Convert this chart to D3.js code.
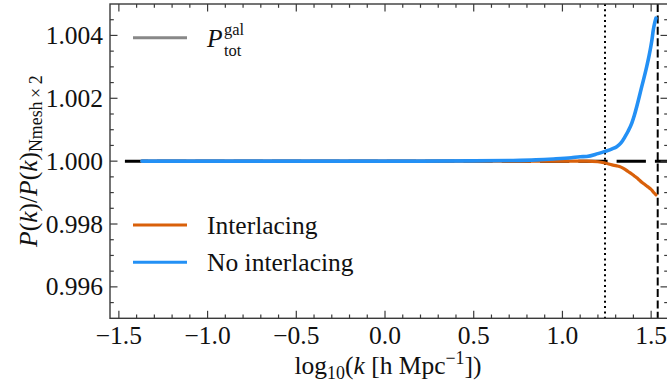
<!DOCTYPE html>
<html>
<head>
<meta charset="utf-8">
<script src="https://cdn.jsdelivr.net/npm/d3@7"></script>
<style>
  html, body { margin: 0; padding: 0; background: #fff; }
  svg { display: block; }
  text { font-family: "Liberation Serif", "DejaVu Serif", serif; fill: #111; }
</style>
</head>
<body>
<script>
// log10(k) sampling shared by both curves
const logK = [-1.37, -1.0, -0.5, 0.0, 0.5, 0.7, 0.85, 0.95, 1.05, 1.10, 1.137, 1.20, 1.24, 1.28,
  1.306, 1.33, 1.353, 1.37, 1.391, 1.405, 1.419, 1.433, 1.447, 1.461, 1.475, 1.487, 1.498,
  1.505, 1.512, 1.520, 1.527];
// Ratio to the Nmesh x 2 reference, without interlacing
const noInterlacing = [1.0, 1.0, 1.0, 1.0, 1.00001, 1.00002, 1.00004, 1.00007, 1.00011, 1.00014,
  1.00015, 1.00024, 1.00031, 1.00039, 1.00046, 1.00058, 1.00078, 1.00095, 1.00121, 1.00145,
  1.00174, 1.00205, 1.00237, 1.00268, 1.00301, 1.00332, 1.00364, 1.00388, 1.00417, 1.00440, 1.00455];
// Ratio with interlacing
const interlacing = [1.0, 1.0, 1.0, 1.0, 1.0, 1.0, 1.0, 1.0, 1.0, 1.0, 1.0, 0.99998, 0.99994,
  0.99988, 0.99985, 0.99981, 0.99974, 0.99967, 0.99959, 0.99953, 0.99947, 0.99940, 0.99933,
  0.99927, 0.99921, 0.99916, 0.99911, 0.99907, 0.99902, 0.99897, 0.99893];

const xTicks = [-1.5, -1.0, -0.5, 0.0, 0.5, 1.0, 1.5];
const yTicks = [0.996, 0.998, 1.000, 1.002, 1.004];
const xLimits = [-1.55, 1.595];
const yLimits = [0.995, 1.005];
const kDotted = 1.24;   // dotted marker
const kDashed = 1.537;  // dashed marker
const refStart = -1.466;

const W = 667, H = 386;
const m = { left: 110, right: 668, top: 4, bottom: 318.3 };
const FS = 25.5;
const axisColor = "#3a3a3a";

const svg = d3.select("body").append("svg").attr("width", W).attr("height", H);

const x = d3.scaleLinear().domain(xLimits).range([m.left, m.right]);
const y = d3.scaleLinear().domain(yLimits).range([m.bottom, m.top]);

const plot = svg.append("g");
svg.append("clipPath").attr("id", "clip").append("rect")
  .attr("x", m.left).attr("y", m.top).attr("width", m.right - m.left).attr("height", m.bottom - m.top);
const layer = plot.append("g").attr("clip-path", "url(#clip)");

// reference line at unity
layer.append("line")
  .attr("x1", x(refStart)).attr("x2", x(xLimits[1]))
  .attr("y1", y(1)).attr("y2", y(1))
  .attr("stroke", "#000").attr("stroke-width", 3)
  .attr("stroke-dasharray", "29.3,9").attr("stroke-dashoffset", 6.2);

// vertical markers
layer.append("line")
  .attr("x1", x(kDotted)).attr("x2", x(kDotted))
  .attr("y1", m.top).attr("y2", m.bottom)
  .attr("stroke", "#000").attr("stroke-width", 2)
  .attr("stroke-dasharray", "2,3.3");
layer.append("line")
  .attr("x1", x(kDashed)).attr("x2", x(kDashed))
  .attr("y1", m.top).attr("y2", m.bottom)
  .attr("stroke", "#000").attr("stroke-width", 2)
  .attr("stroke-dasharray", "8,3.4");

const line = d3.line().x(d => x(d[0])).y(d => y(d[1])).curve(d3.curveMonotoneX);
const orange = "#d9600a", blue = "#2390f5";

layer.append("path").datum(logK.map((k, i) => [k, interlacing[i]]))
  .attr("d", line).attr("fill", "none").attr("stroke", orange)
  .attr("stroke-width", 3.2).attr("stroke-linecap", "round");
layer.append("path").datum(logK.map((k, i) => [k, noInterlacing[i]]))
  .attr("d", line).attr("fill", "none").attr("stroke", blue)
  .attr("stroke-width", 3.6).attr("stroke-linecap", "round");

// frame
plot.append("rect")
  .attr("x", m.left).attr("y", m.top).attr("width", m.right - m.left).attr("height", m.bottom - m.top)
  .attr("fill", "none").attr("stroke", axisColor).attr("stroke-width", 1.4);

// ticks, pointing inward on all four sides
const fmt = v => d3.format(".1f")(v).replace("-", "\u2212");
const xMinor = d3.range(-15, 16).map(i => i / 10);
const yMinor = d3.range(0, 21).map(i => 0.995 + i * 0.0005);
const major = 7.5, minor = 3.8;
const tk = plot.append("g").attr("stroke", axisColor).attr("stroke-width", 1.2);
xMinor.forEach(v => {
  const isMajor = xTicks.some(t => Math.abs(t - v) < 1e-9);
  const L = isMajor ? major : minor;
  tk.append("line").attr("x1", x(v)).attr("x2", x(v)).attr("y1", m.bottom).attr("y2", m.bottom - L);
  tk.append("line").attr("x1", x(v)).attr("x2", x(v)).attr("y1", m.top).attr("y2", m.top + L);
});
yMinor.forEach(v => {
  if (v < yLimits[0] + 1e-9 || v > yLimits[1] - 1e-9) return;
  const isMajor = yTicks.some(t => Math.abs(t - v) < 1e-9);
  const L = isMajor ? major : minor;
  tk.append("line").attr("x1", m.left).attr("x2", m.left + L).attr("y1", y(v)).attr("y2", y(v));
  tk.append("line").attr("x1", m.right).attr("x2", m.right - L).attr("y1", y(v)).attr("y2", y(v));
});

// tick labels
xTicks.forEach(v => {
  svg.append("text").attr("x", x(v)).attr("y", 343.5)
    .attr("text-anchor", "middle").attr("font-size", FS).text(fmt(v));
});
yTicks.forEach(v => {
  svg.append("text").attr("x", 103).attr("y", y(v) + 8.6)
    .attr("text-anchor", "end").attr("font-size", FS).text(d3.format(".3f")(v));
});

// x label: log10(k [h Mpc^-1])
const xl = svg.append("text").attr("x", (m.left + m.right) / 2 - 1).attr("y", 374)
  .attr("text-anchor", "middle").attr("font-size", FS);
xl.append("tspan").text("log");
xl.append("tspan").attr("font-size", FS * 0.7).attr("dy", 5).text("10");
xl.append("tspan").attr("dy", -5).text("(");
xl.append("tspan").attr("font-style", "italic").text("k");
xl.append("tspan").text(" [h Mpc");
xl.append("tspan").attr("font-size", FS * 0.7).attr("dy", -10).text("\u22121");
xl.append("tspan").attr("dy", 10).text("])");

// y label: P(k)/P(k)_{Nmesh x 2}
const yl = svg.append("text")
  .attr("transform", `translate(37,${(m.top + m.bottom) / 2}) rotate(-90)`)
  .attr("text-anchor", "middle").attr("font-size", FS);
yl.append("tspan").attr("font-style", "italic").text("P");
yl.append("tspan").text("(");
yl.append("tspan").attr("font-style", "italic").text("k");
yl.append("tspan").text(")/");
yl.append("tspan").attr("font-style", "italic").text("P");
yl.append("tspan").text("(");
yl.append("tspan").attr("font-style", "italic").text("k");
yl.append("tspan").text(")");
yl.append("tspan").attr("font-size", FS * 0.7).attr("dy", 5).text("Nmesh\u2009\u00d7\u20092");

// legend
const legend = svg.append("g");
const lx0 = 133, lx1 = 187, tx = 207;
legend.append("line").attr("x1", lx0).attr("x2", lx1).attr("y1", 37.7).attr("y2", 37.7)
  .attr("stroke", "#888").attr("stroke-width", 3);
legend.append("text").attr("x", tx).attr("y", 46.5).attr("font-size", FS)
  .attr("font-style", "italic").text("P");
legend.append("text").attr("x", tx + 17).attr("y", 34.5).attr("font-size", 16.5).text("gal");
legend.append("text").attr("x", tx + 17).attr("y", 55.5).attr("font-size", 16.5).text("tot");

[["Interlacing", orange, 225], ["No interlacing", blue, 262.3]].forEach(([label, c, yy]) => {
  legend.append("line").attr("x1", lx0).attr("x2", lx1).attr("y1", yy).attr("y2", yy)
    .attr("stroke", c).attr("stroke-width", 3);
  legend.append("text").attr("x", tx).attr("y", yy + 8.6).attr("font-size", FS).text(label);
});
</script>
</body>
</html>
